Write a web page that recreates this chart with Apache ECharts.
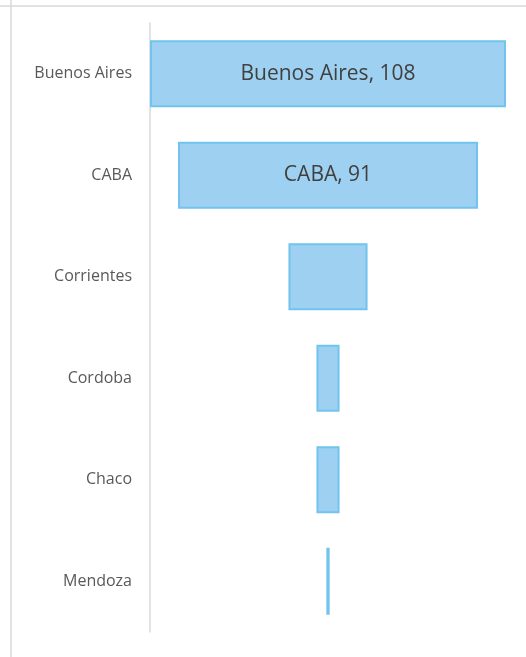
<!DOCTYPE html>
<html>
<head>
<meta charset="utf-8">
<script src="https://cdn.jsdelivr.net/npm/echarts@6/dist/echarts.min.js"></script>
<style>
  html, body { margin: 0; padding: 0; background: #fff; }
  #main { width: 526px; height: 657px; }
</style>
</head>
<body>
<div id="main"></div>
<script>
var myChart = echarts.init(document.getElementById('main'));

var provincias = ['Buenos Aires', 'CABA', 'Corrientes', 'Cordoba', 'Chaco', 'Mendoza'];
var casos = [108, 91, 24, 7, 7, 1];
var conEtiqueta = [true, true, false, false, false, false];

var maximo = 108;

// desplazamiento invisible para centrar cada barra (efecto embudo)
var relleno = casos.map(function (v) { return (maximo - v) / 2; });

var visibles = casos.map(function (v, i) {
    return {
        value: v,
        label: { show: conEtiqueta[i] }
    };
});

option = {
    animation: false,
    grid: {
        left: 150,
        right: 20,
        top: 23,
        bottom: 25
    },
    xAxis: {
        type: 'value',
        min: 0,
        max: maximo,
        show: false
    },
    yAxis: {
        type: 'category',
        inverse: true,
        data: provincias,
        axisLine: { show: true, lineStyle: { color: '#d9d9d9', width: 1.5 } },
        axisTick: { show: false },
        axisLabel: {
            margin: 18,
            fontSize: 16,
            color: '#595959',
            fontFamily: 'Open Sans'
        }
    },
    graphic: [
        { type: 'line', shape: { x1: 0, y1: 6, x2: 526, y2: 6 }, style: { stroke: '#d9d9d9', lineWidth: 1.5 } },
        { type: 'line', shape: { x1: 11, y1: 0, x2: 11, y2: 657 }, style: { stroke: '#d9d9d9', lineWidth: 1.5 } }
    ],
    series: [
        {
            type: 'bar',
            stack: 'embudo',
            data: relleno,
            barWidth: 67,
            itemStyle: { color: 'transparent' },
            silent: true
        },
        {
            type: 'bar',
            stack: 'embudo',
            data: visibles,
            barWidth: 67,
            itemStyle: {
                color: '#9dd0f1',
                borderColor: '#72c3ed',
                borderWidth: 2
            },
            label: {
                position: 'inside',
                formatter: '{b}, {c}',
                fontSize: 21,
                color: '#404040',
                fontFamily: 'Open Sans'
            }
        }
    ]
};

myChart.setOption(option);
</script>
</body>
</html>
